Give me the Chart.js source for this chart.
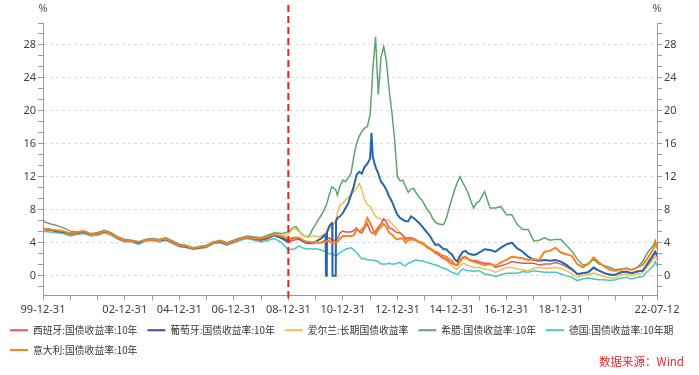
<!DOCTYPE html>
<html>
<head>
<meta charset="utf-8">
<script src="https://cdn.jsdelivr.net/npm/chart.js@4/dist/chart.umd.min.js"></script>
<style>
  html, body { margin: 0; padding: 0; background: #fff; }
</style>
</head>
<body>
<canvas id="yieldChart" width="699" height="375"></canvas>
<script>
// x values are decimal years (1999-12-31 = 2000.0, 2022-07-12 = 2022.526)
const dates = [
  2000, 2000.25, 2000.5, 2000.75, 2001, 2001.25, 2001.5, 2001.75, 2002, 2002.25, 2002.5, 2002.75,
  2003, 2003.25, 2003.5, 2003.75, 2004, 2004.25, 2004.5, 2004.75, 2005, 2005.25, 2005.5, 2005.75,
  2006, 2006.25, 2006.5, 2006.75, 2007, 2007.25, 2007.5, 2007.75, 2008, 2008.25, 2008.5, 2008.75,
  2009, 2009.1, 2009.2, 2009.3, 2009.4, 2009.5, 2009.6, 2009.7, 2009.8, 2009.9, 2010, 2010.1, 2010.2, 2010.3,
  2010.37, 2010.38, 2010.41, 2010.42, 2010.5, 2010.6, 2010.61, 2010.62, 2010.74, 2010.75,
  2010.8, 2010.9,
  2011, 2011.1, 2011.2, 2011.3, 2011.4, 2011.5, 2011.6, 2011.7, 2011.8, 2011.9,
  2012, 2012.05, 2012.1, 2012.2, 2012.3, 2012.4, 2012.5, 2012.6, 2012.7, 2012.8, 2012.9,
  2013, 2013.1, 2013.2, 2013.3, 2013.4, 2013.5, 2013.6, 2013.7, 2013.8, 2013.9,
  2014, 2014.1, 2014.2, 2014.3, 2014.4, 2014.5, 2014.6, 2014.7, 2014.8, 2014.9,
  2015, 2015.1, 2015.2, 2015.3, 2015.4, 2015.5, 2015.6, 2015.7, 2015.8, 2015.9,
  2016, 2016.2, 2016.4, 2016.6, 2016.8, 2017, 2017.2, 2017.4, 2017.6, 2017.8,
  2018, 2018.2, 2018.4, 2018.6, 2018.8, 2019, 2019.2, 2019.4, 2019.6, 2019.8,
  2020, 2020.2, 2020.4, 2020.6, 2020.8, 2021, 2021.2, 2021.4, 2021.6, 2021.8,
  2022, 2022.2, 2022.4, 2022.46, 2022.526
];

const spain = [
  5.6, 5.5, 5.4, 5.3, 5.0, 5.2, 5.3, 5.0, 5.0, 5.3, 5.1, 4.5,
  4.2, 4.2, 4.0, 4.3, 4.4, 4.3, 4.4, 4.0, 3.6, 3.5, 3.3, 3.4,
  3.5, 4.0, 4.1, 3.8, 4.1, 4.5, 4.6, 4.4, 4.3, 4.5, 4.9, 4.5,
  4.0, 4.2, 4.3, 4.4, 4.4, 4.2, 4.0, 3.9, 3.9, 3.9, 4.0, 4.0, 4.0, 4.2,
  4.3, 4.3, 4.4, 4.4, 4.6, 4.3, 4.3, 4.3, 4.3, 4.3,
  4.5, 5.2,
  5.4, 5.3, 5.3, 5.3, 5.5, 5.8, 5.3, 5.2, 5.8, 6.3,
  5.4, 5.2, 5.1, 5.4, 5.9, 6.3, 6.9, 6.5, 5.8, 5.7, 5.4,
  5.2, 5.2, 4.9, 4.4, 4.6, 4.6, 4.5, 4.3, 4.1, 4.0,
  3.8, 3.4, 3.2, 3.0, 2.7, 2.6, 2.3, 2.1, 2.0, 1.7,
  1.5, 1.3, 1.2, 1.7, 2.1, 2.2, 2.0, 1.9, 1.8, 1.8,
  1.7, 1.5, 1.5, 1.0, 1.2, 1.4, 1.7, 1.6, 1.5, 1.5,
  1.5, 1.3, 1.4, 1.4, 1.6, 1.4, 1.1, 0.7, 0.2, 0.3,
  0.4, 0.9, 0.6, 0.3, 0.1, 0.1, 0.4, 0.4, 0.3, 0.5,
  0.6, 1.4, 2.4, 2.8, 2.3
];

const portugal = [
  5.7, 5.6, 5.4, 5.3, 5.1, 5.2, 5.3, 5.0, 5.1, 5.4, 5.1, 4.6,
  4.3, 4.2, 4.0, 4.3, 4.4, 4.3, 4.4, 4.1, 3.7, 3.5, 3.3, 3.4,
  3.6, 4.0, 4.1, 3.9, 4.2, 4.5, 4.7, 4.5, 4.4, 4.6, 4.9, 4.6,
  4.2, 4.5, 4.6, 4.6, 4.5, 4.3, 4.1, 4.0, 4.0, 4.0, 4.1, 4.3, 4.5, 4.8,
  5.0, 0.0, 0.0, 5.3, 6.0, 6.4, 6.4, 0.0, 0.0, 6.6,
  7.0, 7.2,
  7.6, 8.2, 8.8, 9.8, 10.8, 12.2, 12.6, 12.4, 13.2, 13.6,
  14.2, 17.3, 14.4, 13.2, 12.4, 11.4, 11.0, 10.4, 9.6, 9.0, 8.2,
  7.4, 7.0, 6.8, 6.6, 6.6, 7.2, 7.0, 6.7, 6.4, 6.0,
  5.6, 5.2, 4.8, 4.2, 3.7, 3.8, 3.5, 3.2, 3.2, 2.8,
  2.6, 2.0, 1.7, 2.4, 2.9, 3.0, 2.7, 2.6, 2.5, 2.6,
  2.8, 3.2, 3.1, 2.9, 3.4, 3.8, 4.0, 3.3, 2.9, 2.3,
  1.9, 1.8, 1.9, 1.8, 1.9, 1.7, 1.3, 0.8, 0.2, 0.3,
  0.4, 1.0, 0.6, 0.3, 0.1, 0.1, 0.4, 0.5, 0.3, 0.5,
  0.6, 1.6, 2.6, 2.9, 2.5
];

const ireland = [
  5.6, 5.5, 5.4, 5.3, 5.0, 5.1, 5.2, 4.9, 5.0, 5.3, 5.0, 4.5,
  4.2, 4.1, 4.0, 4.3, 4.3, 4.2, 4.4, 4.0, 3.6, 3.5, 3.3, 3.4,
  3.5, 4.0, 4.1, 3.8, 4.1, 4.5, 4.6, 4.5, 4.4, 4.6, 4.9, 4.8,
  5.0, 5.4, 5.8, 5.6, 5.3, 5.1, 4.8, 4.7, 4.7, 4.8, 4.8, 4.7, 4.8, 5.0,
  5.2, 5.2, 5.3, 5.3, 5.6, 6.0, 6.0, 6.1, 6.6, 6.7,
  7.6, 8.6,
  8.8, 9.2, 9.5, 9.8, 10.2, 10.6, 11.2, 10.4, 9.2, 8.6,
  8.4, 8.1, 7.8, 7.2, 7.0, 6.9, 6.7, 6.8, 6.7, 6.3, 6.0,
  5.6, 5.2, 4.9, 4.7, 4.5, 4.4, 4.3, 4.1, 4.0, 3.8,
  3.6, 3.5, 3.3, 3.0, 2.8, 2.5, 2.2, 2.0, 1.8, 1.5,
  1.2, 0.9, 0.8, 1.2, 1.5, 1.4, 1.2, 1.1, 1.0, 1.0,
  1.0, 0.8, 0.7, 0.4, 0.7, 1.0, 1.0, 0.8, 0.7, 0.6,
  0.9, 1.0, 0.9, 0.9, 1.0, 0.9, 0.6, 0.2, -0.2, 0.0,
  0.1, 0.3, 0.1, -0.1, -0.3, -0.3, 0.1, 0.2, 0.0, 0.2,
  0.3, 1.2, 2.0, 2.3, 1.9
];

const greece = [
  6.6, 6.3, 6.1, 5.8, 5.4, 5.3, 5.4, 5.1, 5.2, 5.5, 5.2, 4.7,
  4.4, 4.3, 4.1, 4.4, 4.5, 4.4, 4.6, 4.2, 3.8, 3.7, 3.4, 3.5,
  3.7, 4.1, 4.3, 4.0, 4.3, 4.6, 4.8, 4.7, 4.6, 4.9, 5.2, 5.1,
  5.3, 5.6, 5.9, 5.9, 5.4, 5.0, 4.8, 4.7, 5.0, 5.7, 6.2, 6.8, 7.3, 7.9,
  8.4, 8.5, 8.7, 8.8, 9.8, 10.8, 10.8, 10.8, 10.4, 10.3,
  9.8, 10.9,
  11.6, 11.4, 11.9, 12.4, 14.4, 16.0, 16.9, 17.5, 17.9, 18.1,
  19.5, 22.0, 25.0, 29.0, 22.0, 26.5, 27.8, 26.0, 22.5, 19.8, 16.5,
  12.0, 11.5, 11.6, 10.8, 10.1, 10.5, 10.6, 10.0, 9.5, 9.2,
  8.6, 8.0, 7.6, 6.9, 6.5, 6.3, 6.2, 6.2, 7.0, 8.2,
  9.3, 10.4, 11.3, 12.0, 11.3, 10.7, 10.0, 9.0, 8.2, 8.8,
  9.0, 10.2, 8.2, 8.2, 8.4, 7.4, 7.4, 6.2, 5.6, 5.6,
  4.2, 4.3, 4.6, 4.3, 4.4, 4.4, 3.7, 3.0, 2.0, 1.3,
  1.4, 2.0, 1.4, 1.2, 1.0, 0.7, 0.8, 0.9, 0.7, 1.0,
  1.7, 2.9, 3.7, 4.2, 3.6
];

const germany = [
  5.4, 5.3, 5.2, 5.1, 4.8, 5.0, 5.1, 4.8, 4.9, 5.2, 4.9, 4.4,
  4.1, 4.1, 3.8, 4.2, 4.3, 4.1, 4.3, 3.9, 3.5, 3.4, 3.2, 3.3,
  3.4, 3.9, 4.0, 3.7, 4.0, 4.3, 4.5, 4.3, 4.1, 4.3, 4.5, 4.0,
  3.1, 3.2, 3.2, 3.4, 3.6, 3.4, 3.3, 3.2, 3.3, 3.2, 3.3, 3.2, 3.1, 3.0,
  2.9, 2.9, 2.8, 2.8, 2.7, 2.6, 2.6, 2.6, 2.4, 2.4,
  2.5, 2.8,
  3.0, 3.2, 3.3, 3.4, 3.1, 2.8, 2.4, 2.0, 2.1, 1.9,
  1.9, 1.9, 1.9, 1.8, 1.7, 1.4, 1.4, 1.4, 1.5, 1.4, 1.4,
  1.5, 1.6, 1.3, 1.2, 1.5, 1.6, 1.8, 1.9, 1.8, 1.8,
  1.7, 1.6, 1.5, 1.4, 1.3, 1.2, 1.0, 0.9, 0.8, 0.6,
  0.4, 0.3, 0.1, 0.5, 0.8, 0.7, 0.6, 0.6, 0.5, 0.6,
  0.6, 0.2, 0.1, -0.1, 0.1, 0.3, 0.3, 0.3, 0.5, 0.4,
  0.6, 0.5, 0.4, 0.4, 0.4, 0.2, 0.0, -0.2, -0.6, -0.4,
  -0.3, -0.4, -0.5, -0.5, -0.6, -0.5, -0.3, -0.2, -0.4, -0.2,
  -0.1, 0.6, 1.2, 1.7, 1.2
];

const italy = [
  5.7, 5.6, 5.5, 5.4, 5.1, 5.3, 5.4, 5.0, 5.1, 5.4, 5.1, 4.6,
  4.3, 4.2, 4.1, 4.3, 4.4, 4.3, 4.5, 4.1, 3.7, 3.6, 3.3, 3.5,
  3.6, 4.0, 4.2, 3.9, 4.2, 4.5, 4.7, 4.5, 4.5, 4.7, 5.0, 4.8,
  4.5, 4.4, 4.5, 4.6, 4.6, 4.4, 4.2, 4.1, 4.1, 4.0, 4.1, 4.0, 4.0, 4.1,
  4.1, 4.1, 4.2, 4.2, 4.2, 3.9, 3.9, 3.9, 4.0, 4.0,
  4.1, 4.5,
  4.8, 4.8, 4.8, 4.8, 4.9, 5.6, 5.4, 5.6, 6.0, 7.0,
  6.4, 6.0, 5.6, 5.0, 5.6, 5.9, 6.3, 5.9, 5.2, 5.0, 4.6,
  4.4, 4.5, 4.5, 4.0, 4.3, 4.4, 4.4, 4.3, 4.1, 4.0,
  3.8, 3.5, 3.3, 3.1, 2.9, 2.8, 2.5, 2.4, 2.3, 2.0,
  1.8, 1.4, 1.3, 1.9, 2.2, 2.3, 2.0, 1.8, 1.7, 1.6,
  1.5, 1.3, 1.4, 1.2, 1.6, 1.9, 2.3, 2.2, 2.1, 1.9,
  2.0, 1.9, 2.9, 3.0, 3.4, 2.8, 2.6, 2.4, 1.4, 1.0,
  1.4, 2.2, 1.6, 1.1, 0.7, 0.6, 0.7, 0.9, 0.7, 1.0,
  1.3, 2.2, 3.3, 4.1, 3.3
];

const seriesNames = [
  "西班牙:国债收益率:10年", "葡萄牙:国债收益率:10年", "爱尔兰:长期国债收益率",
  "希腊:国债收益率:10年", "德国:国债收益率:10年期", "意大利:国债收益率:10年"
];
const seriesValues = [spain, portugal, ireland, greece, germany, italy];
const lineColors = ["#e2575e", "#2767a6", "#ebc04f", "#5ea46c", "#4cc3c4", "#f7831e"];
const legendColors = ["#e2575e", "#3b4d8c", "#ebc04f", "#5ea46c", "#4cc3c4", "#f7831e"];
const lineWidths = [1.5, 2, 1.5, 1.5, 1.5, 2];
const drawOrder = [2, 1, 3, 4, 5, 0]; // lower = drawn on top

// axis ticks
const xTickYears = [2000, 2001, 2002, 2003, 2004, 2005, 2006, 2007, 2008, 2009, 2010, 2011,
  2012, 2013, 2014, 2015, 2016, 2017, 2018, 2019, 2020, 2021, 2022, 2022.526];
const xLabelPos = [2000, 2003, 2005, 2007, 2009, 2011, 2013, 2015, 2017, 2019, 2022.526];
const xLabelText = ["99-12-31", "02-12-31", "04-12-31", "06-12-31", "08-12-31", "10-12-31",
  "12-12-31", "14-12-31", "16-12-31", "18-12-31", "22-07-12"];
const yMin = -2.4;
const yMax = 92 / 3;
const yMinorStep = 4 / 3;
const crisisDate = 2009.0;

const isMajor = v => Math.abs(v / 4 - Math.round(v / 4)) < 1e-6;

function setXTicks(scale) {
  scale.ticks = xTickYears.map(v => ({ value: v }));
}
function setYTicks(scale) {
  const ticks = [];
  for (let k = -1; k <= 23; k++) ticks.push({ value: k * yMinorStep });
  scale.ticks = ticks;
}
const yLabel = v => isMajor(v) ? String(Math.round(v)) : "";

const datasets = seriesNames.map((name, s) => ({
  label: name,
  data: dates.map((d, i) => ({ x: d, y: seriesValues[s][i] })),
  borderColor: lineColors[s],
  backgroundColor: lineColors[s],
  borderWidth: lineWidths[s],
  pointRadius: 0,
  tension: 0,
  order: drawOrder[s]
}));

// red dashed marker, % unit labels and source note
const overlay = {
  id: "overlay",
  afterDraw(chart) {
    const { ctx, chartArea, scales } = chart;
    const x = scales.x.getPixelForValue(crisisDate);
    ctx.save();
    ctx.strokeStyle = "#e8231d";
    ctx.lineWidth = 2;
    ctx.setLineDash([7, 4]);
    ctx.beginPath();
    ctx.moveTo(x, 5);
    ctx.lineTo(x, chartArea.bottom + 5);
    ctx.stroke();
    ctx.setLineDash([]);

    ctx.fillStyle = "#555";
    ctx.font = "11px 'Noto Sans', sans-serif";
    ctx.textAlign = "center";
    ctx.textBaseline = "middle";
    ctx.fillText("%", chartArea.left, 9);
    ctx.fillText("%", chartArea.right, 9);

    ctx.fillStyle = "#e8262a";
    ctx.font = "11.5px 'Noto Sans CJK SC', sans-serif";
    ctx.textAlign = "right";
    ctx.fillText("数据来源：Wind", 684, 362);
    ctx.restore();
  }
};

Chart.defaults.font.family = "'Noto Sans', 'Noto Sans CJK SC', sans-serif";

const axisGray = "#9a9a9a";
const tickFont = { size: 11 };

new Chart(document.getElementById("yieldChart"), {
  type: "line",
  data: { datasets },
  options: {
    responsive: false,
    animation: false,
    layout: { padding: { left: 0, right: 0, top: 23, bottom: 10 } },
    plugins: {
      legend: {
        position: "bottom",
        align: "start",
        labels: {
          boxWidth: 18,
          boxHeight: 2,
          padding: 10,
          color: "#333",
          font: { size: 9.8, family: "'Noto Sans CJK SC', sans-serif" },
          generateLabels: chart => Chart.defaults.plugins.legend.labels.generateLabels(chart)
            .map(l => ({ ...l, fillStyle: legendColors[l.datasetIndex], strokeStyle: legendColors[l.datasetIndex], lineWidth: 0 })),
          sort: (a, b) => a.datasetIndex - b.datasetIndex
        }
      },
      tooltip: { enabled: false }
    },
    scales: {
      x: {
        type: "linear",
        min: 2000,
        max: 2022.526,
        afterBuildTicks: setXTicks,
        afterFit: s => { s.height = 20; },
        ticks: {
          autoSkip: false,
          maxRotation: 0,
          padding: 3,
          color: "#404040",
          font: tickFont,
          callback: v => {
            const i = xLabelPos.findIndex(p => Math.abs(p - v) < 1e-6);
            return i >= 0 ? xLabelText[i] : "";
          }
        },
        grid: { drawOnChartArea: false, tickLength: 5, tickColor: axisGray },
        border: { color: axisGray }
      },
      y: {
        position: "left",
        min: yMin,
        max: yMax,
        afterBuildTicks: setYTicks,
        afterFit: s => { s.width = 43; },
        ticks: { autoSkip: false, padding: 2, color: "#404040", font: tickFont, callback: yLabel },
        grid: {
          color: c => (c.tick && isMajor(c.tick.value)) ? "#dcdcdc" : "rgba(0,0,0,0)",
          tickLength: 5,
          tickColor: axisGray
        },
        border: { color: axisGray, dash: [3, 3] }
      },
      y2: {
        position: "right",
        min: yMin,
        max: yMax,
        afterBuildTicks: setYTicks,
        afterFit: s => { s.width = 42; },
        ticks: { autoSkip: false, padding: 2, color: "#404040", font: tickFont, callback: yLabel },
        grid: { drawOnChartArea: false, tickLength: 5, tickColor: axisGray },
        border: { color: axisGray }
      }
    }
  },
  plugins: [overlay]
});
</script>
</body>
</html>
